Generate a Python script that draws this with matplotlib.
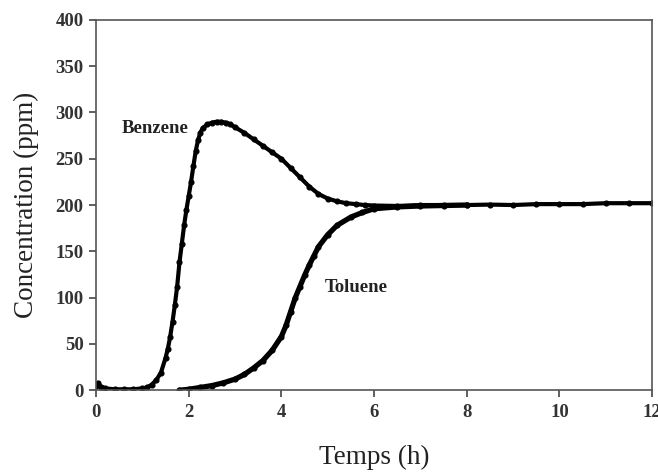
import matplotlib
matplotlib.use("Agg")
import matplotlib.pyplot as plt

# values
benzene_t = [0.0, 0.05, 0.1, 0.2, 0.4, 0.6, 0.8, 1.0, 1.1, 1.2, 1.3, 1.4,
             1.5, 1.55, 1.6, 1.65, 1.7, 1.75, 1.8, 1.85, 1.9, 1.95, 2.0,
             2.05, 2.1, 2.15, 2.2, 2.25, 2.3, 2.4, 2.5, 2.6, 2.7, 2.8, 2.9,
             3.0, 3.2, 3.4, 3.6, 3.8, 4.0, 4.2, 4.4, 4.6, 4.8, 5.0, 5.2,
             5.4, 5.6, 5.8, 6.0, 6.5, 7.0, 7.5, 8.0, 8.5, 9.0, 9.5, 10.0,
             10.5, 11.0, 11.5, 12.0]
benzene_c = [5, 8, 4, 2, 1, 1, 1, 2, 3, 6, 11, 19,
             35, 45, 58, 74, 92, 112, 138, 158, 178, 195, 210,
             225, 242, 258, 270, 278, 283, 287, 289, 290, 290, 289, 287,
             284, 278, 271, 264, 257, 250, 240, 230, 220, 212, 207, 204,
             202, 201, 200, 199.5, 199, 200, 200, 200, 200.5, 200, 201, 201,
             201, 202, 202, 202]

toluene_t = [1.8, 2.0, 2.25, 2.5, 2.75, 3.0, 3.2, 3.4, 3.6, 3.8, 4.0, 4.1,
             4.2, 4.3, 4.4, 4.5, 4.6, 4.7, 4.8, 5.0, 5.2, 5.5, 5.75, 6.0,
             6.5, 7.0, 7.5, 8.0]
toluene_c = [0, 1, 3, 5, 8, 12, 17, 24, 32, 43, 58, 70,
             85, 100, 112, 124, 135, 145, 155, 168, 178, 187, 192, 196,
             198, 199, 199.5, 200]

x_ticks = [0, 2, 4, 6, 8, 10, 12]
y_ticks = [0, 50, 100, 150, 200, 250, 300, 350, 400]

fig = plt.figure(figsize=(6.58, 4.73), dpi=100)
ax = fig.add_axes([0.146, 0.175, 0.845, 0.783])

ax.plot(benzene_t, benzene_c, color='black', linewidth=3.0, marker='o',
        markersize=3.4, solid_capstyle='round')
ax.plot(toluene_t, toluene_c, color='black', linewidth=3.8, marker='o',
        markersize=3.4, solid_capstyle='round')

ax.set_xlim(0, 12)
ax.set_ylim(0, 400)
ax.set_xticks(x_ticks)
ax.set_yticks(y_ticks)

tick_font = {'family': 'Liberation Serif', 'weight': 'bold', 'size': 13.5}
ax.set_xticklabels([str(v) for v in x_ticks], fontdict=tick_font, color='#333333')
ax.set_yticklabels([str(v) for v in y_ticks], fontdict=tick_font, color='#333333')
ax.tick_params(direction='out', length=5, width=1.2, color='#444444', pad=4)
ax.tick_params(axis='x', pad=5)

for spine in ax.spines.values():
    spine.set_color('#555555')
    spine.set_linewidth(1.2)

label_font = {'family': 'Liberation Serif', 'size': 19.5}
ax.set_xlabel('Temps (h)', fontdict=label_font, color='#222222', labelpad=17)
ax.set_ylabel('Concentration (ppm)', fontdict=label_font, color='#222222',
              labelpad=12)

ax.text(0.56, 283, 'Benzene', fontsize=13.5, fontweight='bold',
        family='Liberation Serif', color='#222222', va='center', ha='left')
ax.text(4.94, 111, 'Toluene', fontsize=13.5, fontweight='bold',
        family='Liberation Serif', color='#222222', va='center', ha='left')

fig.savefig('out.png', dpi=100, facecolor='white')
